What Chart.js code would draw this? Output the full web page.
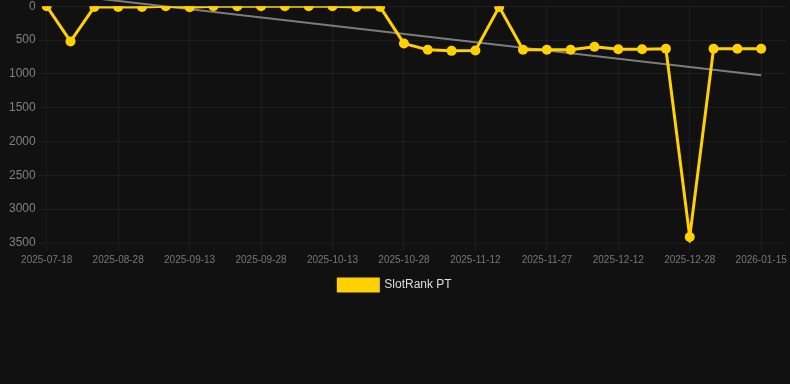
<!DOCTYPE html>
<html>
<head>
<meta charset="utf-8">
<script src="https://cdn.jsdelivr.net/npm/chart.js@4.4.1/dist/chart.umd.min.js"></script>
<style>
  html, body { margin: 0; padding: 0; background: #111111; overflow: hidden; }
  #wrap { width: 790px; height: 305px; margin-top: -4px; position: relative; }
</style>
</head>
<body>
<div id="wrap"><canvas id="rankChart"></canvas></div>
<script>
// dates on the x axis (only every 3rd one is shown by autoSkip)
var dates = [
  "2025-07-18", "2025-08-18", "2025-08-23", "2025-08-28", "2025-09-02",
  "2025-09-08", "2025-09-13", "2025-09-18", "2025-09-23", "2025-09-28",
  "2025-10-03", "2025-10-08", "2025-10-13", "2025-10-18", "2025-10-23",
  "2025-10-28", "2025-11-02", "2025-11-07", "2025-11-12", "2025-11-17",
  "2025-11-22", "2025-11-27", "2025-12-02", "2025-12-07", "2025-12-12",
  "2025-12-17", "2025-12-22", "2025-12-28", "2026-01-03", "2026-01-09",
  "2026-01-15",
];

// rank values
var rankPT = [
  0, 520, 10, 10, 10, 0, 15, 0, 0, 0,
  0, 0, 0, 10, 10, 550, 645, 660, 655, 10,
  645, 645, 645, 600, 635, 635, 630, 3410, 630, 630,
  630,
];

// trend line end values
var trendStart = -200;
var trendEnd = 1020;

var yTicks = [0, 500, 1000, 1500, 2000, 2500, 3000, 3500];

var ctx = document.getElementById("rankChart").getContext("2d");

var rankChart = new Chart(ctx, {
  type: "line",
  data: {
    labels: dates,
    datasets: [
      {
        label: "SlotRank PT",
        data: rankPT,
        borderColor: "#ffd100",
        backgroundColor: "#ffd100",
        borderWidth: 3,
        pointRadius: 5,
        pointHoverRadius: 5,
        pointBackgroundColor: "#ffd100",
        pointBorderWidth: 0,
        tension: 0,
        order: 0,
      },
      {
        label: "trend",
        data: [
          { x: dates[0], y: trendStart },
          { x: dates[dates.length - 1], y: trendEnd },
        ],
        borderColor: "rgba(160, 160, 160, 0.75)",
        borderWidth: 2,
        pointRadius: 0,
        tension: 0,
        clip: false,
        order: 1,
      },
    ],
  },
  options: {
    responsive: true,
    maintainAspectRatio: false,
    animation: false,
    plugins: {
      legend: {
        position: "bottom",
        labels: {
          color: "#dddddd",
          font: { size: 12 },
          filter: function (item) {
            return item.text !== "trend";
          },
        },
      },
      tooltip: { enabled: false },
    },
    scales: {
      x: {
        grid: { color: "rgba(255, 255, 255, 0.05)" },
        // leave a little empty room after the last date, like the original
        afterBuildTicks: function (scale) {
          scale._valueRange = dates.length - 1 + 1.0;
        },
        ticks: {
          color: "#777777",
          font: { size: 10 },
          maxRotation: 0,
          autoSkip: true,
          maxTicksLimit: 11,
        },
      },
      y: {
        reverse: true,
        min: 0,
        max: 3500,
        grid: { color: "rgba(255, 255, 255, 0.05)" },
        afterBuildTicks: function (scale) {
          scale.ticks = yTicks.map(function (v) { return { value: v }; });
        },
        afterFit: function (scale) {
          scale.width += 6;
        },
        ticks: {
          color: "#808080",
          font: { size: 12 },
          callback: function (value) {
            return String(value);
          },
        },
      },
    },
  },
});
</script>
</body>
</html>
